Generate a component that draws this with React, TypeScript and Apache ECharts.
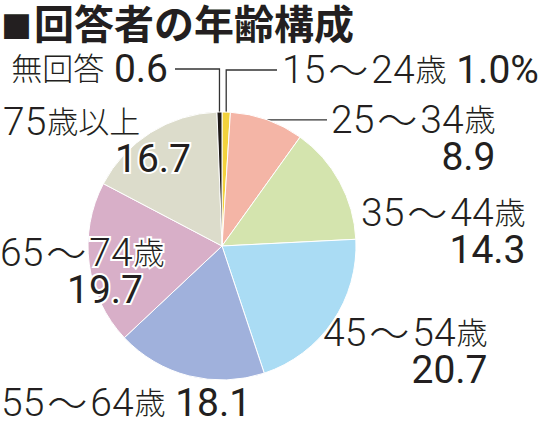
import React, { useEffect, useRef } from 'react';
import * as echarts from 'echarts';

const TITLE_MARK = '■';
const TITLE = '回答者の年齢構成';
const categories = ['15〜24歳', '25〜34歳', '35〜44歳', '45〜54歳', '55〜64歳', '65〜74歳', '75歳以上', '無回答'];
const values = [1.0, 8.9, 14.3, 20.7, 18.1, 19.7, 16.7, 0.6];
const valueSuffix = ['%', '', '', '', '', '', '', ''];
const colors = ['#f3d23c', '#f4b5a6', '#d4e4ae', '#aadcf4', '#a0b1dc', '#d8afc8', '#dcdccb', '#1f1a17'];

// label placement: anchor x (left, or right when alignRight), centre y of first line, arrangement, leader line end
const labelSpots: any[] = [
  { x: 282, cy: 70, kind: 'inline', lineTo: 277, lineY: 70 },
  { x: 331, cy: 120, kind: 'right', lineTo: 327 },
  { x: 361, cy: 213, kind: 'right' },
  { x: 323, cy: 333, kind: 'right' },
  { x: 1, cy: 403, kind: 'inline' },
  { x: 0, cy: 253, kind: 'offset', pad: 67 },
  { x: 3, cy: 122, kind: 'offset', pad: 112 },
  { x: 168, cy: 69, kind: 'inline', alignRight: true, lineTo: 175, lineY: 69 },
];

const CENTER = [222, 246];
const RADIUS = 134;
const LINE_H = 37;
const LINE_H_SINGLE = 30;
const LATIN = "Roboto, 'DejaVu Sans', sans-serif";
const CJK = "'Noto Sans CJK JP', sans-serif";
const INK = '#231f20';

export default function App() {
  const ref = useRef<HTMLDivElement>(null);
  useEffect(() => {
    if (!ref.current) return;
    const chart = echarts.init(ref.current, undefined, { renderer: 'svg' });
    const total = values.reduce((a, b) => a + b, 0);
    const halo = { textBorderColor: '#fff', textBorderWidth: 4 };
    const rich: any = {};
    [['', LINE_H], ['S', LINE_H_SINGLE]].forEach(([suf, lh]: any) => {
      rich['d' + suf] = { fontFamily: LATIN, fontSize: 39, fontWeight: 300, color: INK, lineHeight: lh, ...halo };
      rich['j' + suf] = { fontFamily: CJK, fontSize: 31, fontWeight: 300, color: INK, lineHeight: lh, padding: [0, 0, 5, 1], ...halo };
      rich['t' + suf] = { fontFamily: CJK, fontSize: 40, fontWeight: 300, color: INK, lineHeight: lh, padding: [0, 3, 4, 3], ...halo };
      rich['v' + suf] = { fontFamily: LATIN, fontSize: 39, fontWeight: 400, color: INK, lineHeight: lh, ...halo };
    });
    rich.r = { ...rich.v, align: 'right' };
    labelSpots.forEach((s) => {
      if (s.kind === 'offset') rich['p' + s.pad] = { ...rich.v, padding: [0, 0, 0, s.pad] };
    });
    const tokenize = (text: string, suf: string) => {
      const runs: string[] = [];
      let cur = '';
      let curType = '';
      for (const ch of text) {
        const type = /[0-9.%]/.test(ch) ? 'd' : ch === '〜' ? 't' : 'j';
        if (type !== curType && cur) {
          runs.push(`{${curType}${suf}|${cur}}`);
          cur = '';
        }
        curType = type;
        cur += ch;
      }
      if (cur) runs.push(`{${curType}${suf}|${cur}}`);
      return runs.join('');
    };
    const fmt = (i: number) => {
      const s = labelSpots[i];
      const val = values[i].toFixed(1) + valueSuffix[i];
      if (s.kind === 'inline') return `${tokenize(categories[i], 'S')}{vS| ${val}}`;
      if (s.kind === 'right') return `${tokenize(categories[i], '')}\n{r|${val}}`;
      return `${tokenize(categories[i], '')}\n{p${s.pad}|${val}}`;
    };
    const edgePoint = (i: number) => {
      let before = 0;
      for (let k = 0; k < i; k++) before += values[k];
      const mid = ((before + values[i] / 2) / total) * Math.PI * 2;
      return [CENTER[0] + RADIUS * Math.sin(mid), CENTER[1] - RADIUS * Math.cos(mid)];
    };
    chart.setOption({
      animation: false,
      backgroundColor: '#fff',
      title: {
        text: `{s|${TITLE_MARK}}${TITLE}`,
        left: 1,
        top: 2,
        padding: 0,
        textStyle: {
          fontFamily: CJK,
          fontSize: 40,
          fontWeight: 'bold',
          color: INK,
          rich: { s: { fontFamily: CJK, fontSize: 31, fontWeight: 'bold', color: INK, padding: [6, 2, 0, 0] } },
        },
      },
      series: [
        {
          type: 'pie',
          center: CENTER,
          radius: RADIUS,
          startAngle: 90,
          clockwise: true,
          avoidLabelOverlap: false,
          itemStyle: { borderColor: '#fff', borderWidth: 1 },
          label: {
            show: true,
            position: 'outside',
            formatter: (p: any) => fmt(p.dataIndex),
            rich,
          },
          labelLine: { show: true, length: 10, length2: 10, lineStyle: { color: '#333', width: 1.3 } },
          labelLayout: (params: any) => {
            const i = params.dataIndex;
            const s = labelSpots[i];
            const lh = s.kind === 'inline' ? LINE_H_SINGLE : LINE_H;
            const out: any = {
              x: s.x,
              y: s.cy - lh / 2,
              align: s.alignRight ? 'right' : 'left',
              verticalAlign: 'top',
            };
            if (s.lineTo != null) {
              const p0 = (params.labelLinePoints && params.labelLinePoints[0]) || edgePoint(i);
              if (s.lineY != null) {
                out.labelLinePoints = [[p0[0], p0[1]], [p0[0], s.lineY], [s.lineTo, s.lineY]];
              } else {
                out.labelLinePoints = [[p0[0], p0[1]], [(p0[0] + s.lineTo) / 2, p0[1]], [s.lineTo, p0[1]]];
              }
            }
            return out;
          },
          data: categories.map((name, i) => ({
            name,
            value: values[i],
            itemStyle: { color: colors[i] },
            labelLine: { show: labelSpots[i].lineTo != null },
          })),
        },
      ],
    });
    return () => chart.dispose();
  }, []);
  return (
    <div
      ref={ref}
      style={{ position: 'fixed', left: 0, top: 0, width: 546, height: 422, background: '#fff' }}
    />
  );
}
